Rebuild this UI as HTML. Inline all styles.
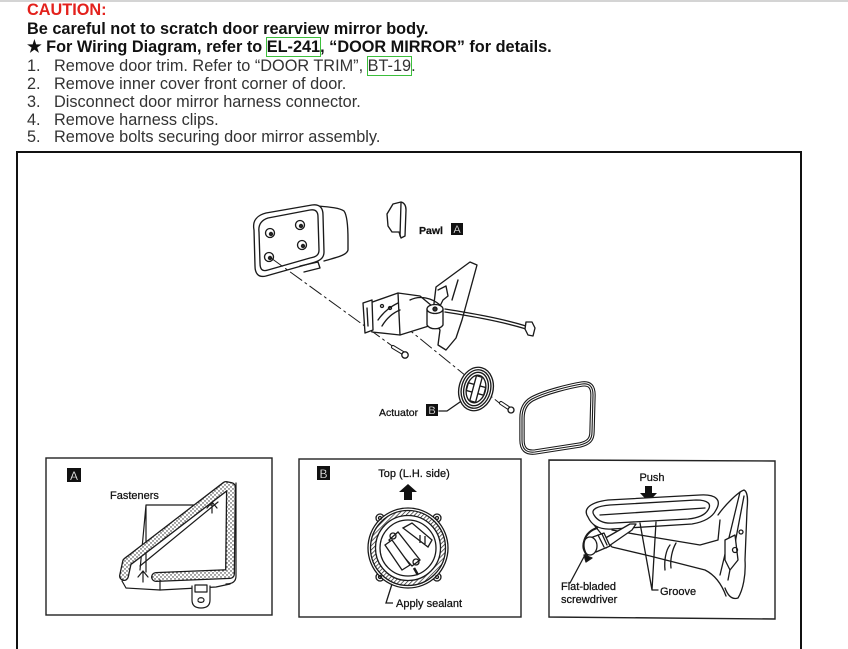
<!DOCTYPE html>
<html><head><meta charset="utf-8">
<style>
html,body{margin:0;padding:0;background:#fff;width:848px;height:649px;overflow:hidden;}
.t{position:absolute;left:27px;font-family:"Liberation Sans",Arial,sans-serif;font-size:16.3px;line-height:18px;white-space:nowrap;}
.b{font-weight:bold;color:#111;}
.n{color:#333;}
.num{display:inline-block;width:27px;}
.lk{box-shadow:0 0 0 1px #3cbf3c;}
svg{position:absolute;left:0;top:0;}
svg text{stroke:#111;stroke-width:0.25;}
</style></head>
<body>
<div style="position:absolute;left:0;top:0;width:848px;height:2px;background:#d4d4d4"></div>
<div class="t b" style="top:1px;color:#e3211c">CAUTION:</div>
<div class="t b" style="top:20px">Be careful not to scratch door rearview mirror body.</div>
<div class="t b" style="top:38px">★ For Wiring Diagram, refer to <span class="lk">EL-241</span>, “DOOR MIRROR” for details.</div>
<div class="t n" style="top:57px"><span class="num">1.</span>Remove door trim. Refer to “DOOR TRIM”, <span class="lk">BT-19</span>.</div>
<div class="t n" style="top:75px"><span class="num">2.</span>Remove inner cover front corner of door.</div>
<div class="t n" style="top:93px"><span class="num">3.</span>Disconnect door mirror harness connector.</div>
<div class="t n" style="top:111px"><span class="num">4.</span>Remove harness clips.</div>
<div class="t n" style="top:128px"><span class="num">5.</span>Remove bolts securing door mirror assembly.</div>

<svg width="848" height="649" viewBox="0 0 848 649" xmlns="http://www.w3.org/2000/svg" font-family="Liberation Sans, Arial, sans-serif">
<defs>
<pattern id="dots" width="4" height="4" patternUnits="userSpaceOnUse">
<rect width="4" height="4" fill="#fff"/><circle cx="1" cy="1" r="0.7" fill="#222"/><circle cx="3" cy="3" r="0.7" fill="#222"/></pattern>
<pattern id="hatch" width="3" height="3" patternUnits="userSpaceOnUse" patternTransform="rotate(45)">
<rect width="3" height="3" fill="#fff"/><line x1="0" y1="0" x2="0" y2="3" stroke="#222" stroke-width="1.4"/></pattern>
</defs>

<!-- main frame -->
<path d="M17,660 L17,152 L801,152 L801,660" fill="none" stroke="#111" stroke-width="2"/>

<g fill="none" stroke="#1a1a1a" stroke-width="1.35" stroke-linejoin="round" stroke-linecap="round">
<!-- mirror housing -->
<path d="M318,206 C330,207 340,208 344,211 C347,215 348,225 348,240 L348,250 C347,255 338,257 324,261" fill="#fff"/>
<path d="M254,230 C252,220 258,215 266,213 L312,205 C320,204 323,208 323,215 L324,252 C324,258 320,261 312,263 L266,276 C258,278 255,273 255,266 Z" fill="#fff"/>
<path d="M259,232 C258,224 262,220 268,218 L310,210 C316,209 318,212 318,217 L319,250 C319,255 316,257 310,258 L268,270 C262,272 260,269 260,263 Z"/>
<path d="M300,266 L318,262 L320,268 L304,272"/>
<g fill="#fff">
<circle cx="270" cy="233" r="4.5"/><circle cx="300" cy="225" r="4.5"/><circle cx="302" cy="245" r="4.5"/><circle cx="269" cy="257" r="4.5"/></g>
<g fill="#222" stroke="none">
<circle cx="271" cy="234" r="2.2"/><circle cx="301" cy="226" r="2.2"/><circle cx="303" cy="246" r="2.2"/><circle cx="270" cy="258" r="2.2"/></g>

<!-- pawl -->
<path d="M393,204 L401,202 C405,203 406,206 406,210 L405,236 L401,238 L399,232 L392,232 L388,226 L387,214 Z" fill="#fff"/>
<path d="M401,203 L400,236"/>

<!-- dash-dot lines -->
<path d="M271,258 L395,348" stroke-dasharray="14,4,2,4" stroke-width="1"/>
<path d="M402,324 L503,406" stroke-dasharray="14,4,2,4" stroke-width="1"/>

<!-- bracket plate -->
<path d="M436,287 L470,262 L477,265 L474,276 L462,320 L456,338 L446,350 L438,345 L440,330 L432,320 Z" fill="#fff"/>
<path d="M438,290 L446,286 L448,296 L443,300 L440,306"/>
<path d="M452,300 L458,280"/>
<!-- wire -->
<path d="M445,309 C470,313 500,318 526,326"/>
<path d="M445,312 C470,316 500,321 526,329"/>
<path d="M526,322 L532,322 L535,328 L533,336 L528,335 L525,329 Z" fill="#fff"/>
<!-- motor box -->
<path d="M364,305 L398,293 L420,296 L432,306 L432,325 L400,335 L372,332 Z" fill="#fff"/>
<path d="M398,293 L400,335"/>
<path d="M363,303 L372,300 L373,330 L365,333 Z" fill="#fff"/>
<path d="M367,308 L368,326"/>
<path d="M378,320 C385,310 392,306 398,303"/>
<path d="M382,326 C388,316 395,312 400,310"/>
<circle cx="382" cy="306" r="1.5"/><circle cx="390" cy="308" r="1.5"/>
<!-- pivot -->
<path d="M427,309 L427,325 C430,330 440,330 443,325 L443,309" fill="#fff"/>
<ellipse cx="435" cy="309" rx="8" ry="4.5" fill="#fff"/>
<circle cx="435" cy="309" r="2" fill="#333"/>
<path d="M410,300 C420,295 432,298 440,305"/>

<!-- bolt 1 -->
<path d="M393,347 L403,353" stroke-width="4"/>
<path d="M393,347 L403,353" stroke="#fff" stroke-width="2"/>
<circle cx="405" cy="355" r="3.2" fill="#fff"/>
<!-- bolt 2 -->
<path d="M501,403 L510,409" stroke-width="4"/>
<path d="M501,403 L510,409" stroke="#fff" stroke-width="2"/>
<circle cx="511" cy="410" r="3" fill="#fff"/>

<!-- actuator -->
<g transform="translate(476,389) rotate(15)">
<ellipse rx="17" ry="22" fill="#fff"/>
<ellipse rx="14.5" ry="19.5"/>
<ellipse rx="12" ry="17"/>
<ellipse rx="9.5" ry="14" fill="#fff"/>
<path d="M-9,-4 L9,-4 L9,4 L-9,4 Z" fill="#fff"/>
<path d="M-3,-13 L3,-13 L3,13 L-3,13 Z" fill="#fff"/>
</g>
<path d="M439,411 L447,411 L460,402"/>

<!-- mirror glass -->
<path d="M532,399 C545,392 570,386 582,384 C590,383 593,387 593,395 L592,432 C592,440 588,443 580,445 L535,452 C526,453 522,449 522,440 L522,418 C522,410 525,403 532,399 Z" stroke-width="5.4"/>
<path d="M532,399 C545,392 570,386 582,384 C590,383 593,387 593,395 L592,432 C592,440 588,443 580,445 L535,452 C526,453 522,449 522,440 L522,418 C522,410 525,403 532,399 Z" stroke="#fff" stroke-width="3.2"/>
<path d="M532,399 C545,392 570,386 582,384 C590,383 593,387 593,395 L592,432 C592,440 588,443 580,445 L535,452 C526,453 522,449 522,440 L522,418 C522,410 525,403 532,399 Z" stroke-width="1.1"/>
</g>

<!-- main labels -->
<text x="419" y="234" font-size="10.5" font-weight="bold" fill="#111">Pawl</text>
<rect x="451" y="223" width="12" height="12" fill="#111"/>
<text x="457" y="233" font-size="11" fill="#fff" stroke="none" text-anchor="middle">A</text>
<text x="379" y="416" font-size="10.5" fill="#111">Actuator</text>
<rect x="426" y="404" width="12" height="12" fill="#111"/>
<text x="432" y="414" font-size="11" fill="#fff" stroke="none" text-anchor="middle">B</text>

<!-- Box A -->
<rect x="46" y="458" width="226" height="157" fill="#fff" stroke="#222" stroke-width="1.4"/>
<rect x="67" y="468" width="14" height="14" fill="#111"/>
<text x="74" y="480" font-size="12" fill="#fff" stroke="none" text-anchor="middle">A</text>
<text x="110" y="499" font-size="11" fill="#111">Fasteners</text>
<g fill="none" stroke="#1a1a1a" stroke-width="1.2" stroke-linejoin="round" stroke-linecap="round">
<path d="M140,570 L146,505 M146,505 L212,505 M146,505 L146,572"/>
<path d="M124,576 L127,562 L226,486 L231,487 L230,574 L156,577" stroke-width="10"/>
<path d="M124,576 L127,562 L226,486 L231,487 L230,574 L156,577" stroke="url(#dots)" stroke-width="7.4"/>
<path d="M140,566 L218,502"/>
<path d="M236,483 L236,576 C236,582 232,584 226,584"/>
<path d="M122,581 L126,588 L160,590 L216,587 L230,584"/>
<path d="M160,580 L160,590"/>
<path d="M192,586 L192,600 C192,606 196,608 201,608 C206,608 210,606 210,600 L210,586" fill="#fff"/>
<rect x="195" y="585" width="12" height="7" fill="#fff"/>
<path d="M198,600 C198,597 204,597 204,600 C204,603 199,603 198,601"/>
<path d="M207,508 L212,502 L217,508 M212,502 L212,513"/>
<path d="M138,577 L143,571 L148,577 M143,571 L143,582"/>
</g>

<!-- Box B -->
<rect x="299" y="459" width="222" height="158" fill="#fff" stroke="#222" stroke-width="1.4"/>
<rect x="317" y="466" width="13" height="14" fill="#111"/>
<text x="323.5" y="478" font-size="12" fill="#fff" stroke="none" text-anchor="middle">B</text>
<text x="414" y="477" font-size="11" fill="#111" text-anchor="middle">Top (L.H. side)</text>
<polygon points="399,492 408,484 417,492 412,492 412,500 404,500 404,492" fill="#111"/>
<g fill="none" stroke="#1a1a1a" stroke-width="1.3">
<circle cx="380" cy="518" r="4" fill="#fff"/><circle cx="437" cy="518" r="4" fill="#fff"/>
<circle cx="380" cy="577" r="4" fill="#fff"/><circle cx="437" cy="577" r="4" fill="#fff"/>
<circle cx="408" cy="548" r="40" fill="#fff"/>
<circle cx="380" cy="518" r="1.5"/><circle cx="437" cy="518" r="1.5"/>
<circle cx="380" cy="577" r="1.5"/><circle cx="437" cy="577" r="1.5"/>
<circle cx="408" cy="548" r="35" stroke="url(#hatch)" stroke-width="5"/>
<circle cx="408" cy="548" r="37.5"/>
<circle cx="408" cy="548" r="32.5"/>
<circle cx="408" cy="548" r="28"/>
<path d="M389,540 L398,532 L420,560 L412,566 Z" fill="#fff"/>
<path d="M403,528 L412,523 L432,540 L428,547 Z" fill="#fff"/>
<path d="M385,545 L392,540 L410,565 L402,570 Z" fill="#fff"/>
<circle cx="393" cy="536" r="3"/><circle cx="416" cy="562" r="3"/>
<path d="M420,535 L420,543 M425,536 L425,544"/>
<path d="M414,568 L418,575" stroke-width="2.5"/>
<path d="M392,584 L386,603 L393,603"/>
</g>
<text x="396" y="607" font-size="11" fill="#111">Apply sealant</text>

<!-- Box C -->
<path d="M549,460 L775,461 L775,619 L549,617 Z" fill="#fff" stroke="#222" stroke-width="1.4"/>
<text x="652" y="481" font-size="11" fill="#111" text-anchor="middle">Push</text>
<polygon points="645,486 652,486 652,493 657,493 648.5,502 640,493 645,493" fill="#111"/>
<g fill="none" stroke="#1a1a1a" stroke-width="1.3" stroke-linejoin="round" stroke-linecap="round">
<!-- right mount -->
<path d="M718,515 C725,505 738,492 744,490 C748,492 748,500 747,510 L745,560 C746,575 743,590 738,598 C732,600 728,596 725,588" fill="#fff"/>
<path d="M740,492 L720,575 M744,496 L728,580"/>
<path d="M725,540 L735,535 L738,560 L730,570 L725,560 Z" fill="#fff"/>
<circle cx="741" cy="532" r="2"/><circle cx="735" cy="550" r="2.5"/>
<!-- body -->
<path d="M590,520 L612,547 L650,556 L705,570 C715,575 722,585 726,596"/>
<path d="M612,530 L640,535 L700,545 L718,540 L720,520"/>
<path d="M670,545 C666,550 664,560 665,570"/>
<path d="M676,543 C672,550 670,560 671,568"/>
<!-- oval -->
<path d="M588,517 C582,508 592,502 608,500 L700,495 C716,494 722,500 716,510 C712,518 704,522 692,524 L612,529 C598,530 591,524 588,517 Z" fill="#fff"/>
<path d="M594,515 C590,509 598,506 610,505 L696,500 C708,500 712,504 708,510 C705,515 698,518 688,519 L614,523 C603,524 597,520 594,515 Z"/>
<path d="M600,515 L705,508"/>
<!-- screwdriver -->
<path d="M602,540 L630,524 L636,524 L632,530 L606,548" fill="#fff"/>
<path d="M590,538 L604,533 L610,546 L596,552 Z" fill="#fff"/>
<ellipse cx="590" cy="546" rx="7" ry="9" fill="#fff"/>
<path d="M597,528 C585,532 579,545 588,557" stroke-width="2"/>
<polygon points="584,555 592,558 586,562" fill="#111"/>
<path d="M598,535 L604,547 M602,534 L607,545"/>
<!-- leaders -->
<path d="M640,523 L652,590 M656,522 L652,590 M652,590 L658,590"/>
<path d="M586,553 L570,583"/>
</g>
<text x="561" y="590" font-size="11" fill="#111">Flat-bladed</text>
<text x="561" y="603" font-size="11" fill="#111">screwdriver</text>
<text x="660" y="595" font-size="11" fill="#111">Groove</text>
</svg>
</body></html>
